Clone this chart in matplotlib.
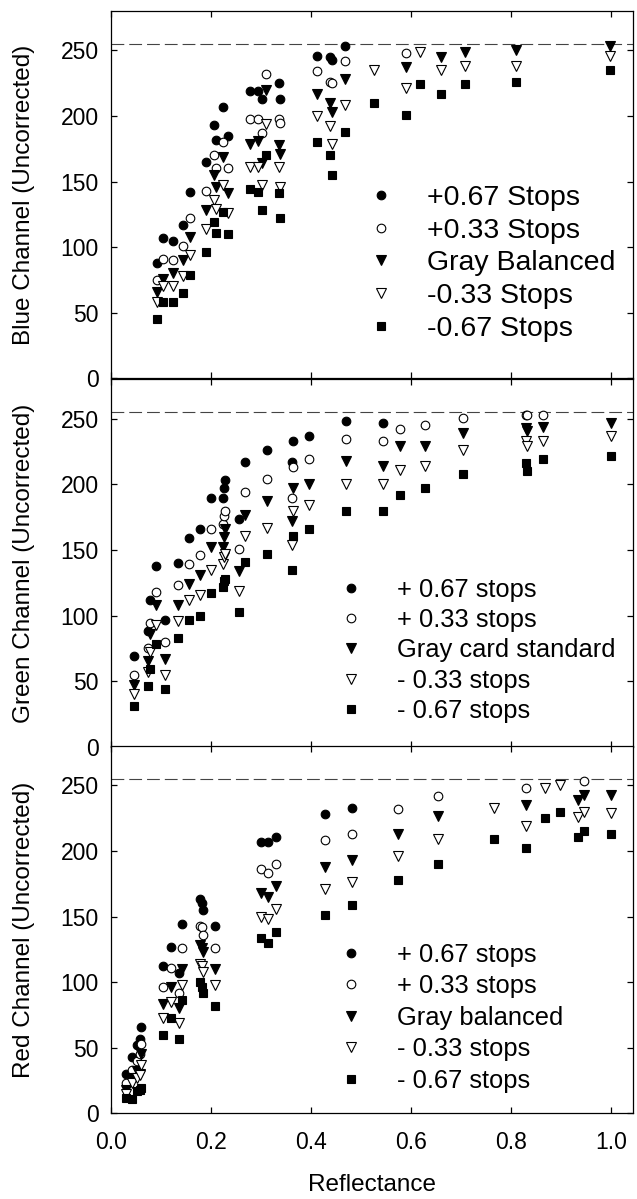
import numpy as np
import matplotlib
matplotlib.use("Agg")
import matplotlib.pyplot as plt

nan = np.nan

# ── Data: Blue channel ───────────────────────────────────────
blue_refl = [0.091, 0.103, 0.123, 0.143, 0.158, 0.189, 0.206, 0.210, 0.223, 0.233,
             0.278, 0.293, 0.301, 0.309, 0.336, 0.337, 0.411, 0.438, 0.442, 0.467,
             0.525, 0.590, 0.617, 0.660, 0.708, 0.809, 0.997]
blue_p67 = [88, 107, 105, 117, 142, 165, 193, 182, 207, 185,
            219, 219, 213, nan, 225, 213, 246, 245, 243, 253,
            nan, nan, nan, nan, nan, nan, nan]
blue_p33 = [75, 91, 90, 101, 122, 143, 170, 160, 180, 160,
            198, 198, 187, 232, 198, 195, 234, 226, 225, 242,
            nan, 248, nan, nan, nan, nan, nan]
blue_gray = [66, 76, 80, 90, 108, 128, 155, 146, 169, 141,
             179, 181, 164, 220, 178, 171, 217, 210, 203, 228,
             nan, 237, nan, 245, 249, 250, 253]
blue_m33 = [58, 70, 70, 78, 94, 114, 136, 129, 147, 126,
            161, 161, 147, 194, 161, 146, 200, 192, 179, 208,
            235, 221, 249, 235, 238, 238, 246]
blue_m67 = [45, 58, 58, 65, 79, 96, 119, 111, 127, 110,
            144, 142, 128, 170, 141, 122, 180, 170, 155, 188,
            210, 201, 224, 217, 224, 226, 235]

# ── Data: Green channel ──────────────────────────────────────
green_refl = [0.046, 0.073, 0.078, 0.090, 0.107, 0.133, 0.155, 0.177, 0.199, 0.223,
              0.225, 0.228, 0.256, 0.268, 0.311, 0.361, 0.363, 0.396, 0.470, 0.543,
              0.577, 0.627, 0.703, 0.829, 0.831, 0.863, 0.999]
green_p67 = [69, 88, 112, 138, 97, 140, 159, 166, 190, 190,
             197, 203, 174, 217, 226, 217, 233, 237, 248, 247,
             nan, nan, nan, nan, nan, nan, nan]
green_p33 = [55, 75, 94, 118, 80, 123, 139, 146, 166, 170,
             176, 180, 151, 194, 204, 190, 213, 219, 235, 233,
             242, 245, 251, 253, 253, 253, nan]
green_gray = [47, 65, 86, 108, 67, 108, 124, 131, 152, 152,
              160, 166, 134, 177, 187, 172, 197, 200, 218, 214,
              229, 229, 239, 243, 241, 244, 247]
green_m33 = [40, 57, 72, 93, 55, 96, 112, 116, 135, 139,
             145, 147, 119, 161, 167, 154, 180, 184, 200, 200,
             211, 214, 226, 233, 229, 233, 237]
green_m67 = [31, 46, 59, 78, 44, 83, 97, 100, 117, 122,
             126, 128, 103, 141, 147, 135, 161, 166, 180, 180,
             192, 197, 208, 216, 210, 219, 222]

# ── Data: Red channel ────────────────────────────────────────
red_refl = [0.030, 0.041, 0.051, 0.057, 0.060, 0.103, 0.119, 0.135, 0.141, 0.177,
            0.181, 0.184, 0.208, 0.299, 0.313, 0.330, 0.427, 0.482, 0.573, 0.653,
            0.765, 0.829, 0.868, 0.898, 0.933, 0.945, 0.999]
red_p67 = [30, 43, 52, 57, 66, 112, 127, 107, 144, 163,
           160, 155, 143, 207, 207, 211, 228, 233, nan, nan,
           nan, nan, nan, nan, nan, nan, nan]
red_p33 = [23, 33, 40, 45, 53, 96, 111, 92, 126, 143,
           142, 136, 126, 186, 183, 190, 208, 213, 232, 242,
           nan, 248, nan, nan, nan, 253, nan]
red_gray = [18, 27, 32, 30, 45, 83, 96, 80, 110, 128,
            126, 123, 110, 168, 165, 173, 188, 193, 213, 227,
            nan, 235, nan, nan, 239, 243, 243]
red_m33 = [15, 23, 27, 29, 37, 73, 85, 69, 98, 114,
           112, 108, 98, 150, 148, 156, 171, 176, 196, 209,
           233, 219, 248, 250, 226, 230, 229]
red_m67 = [12, 11, 17, 18, 19, 60, 73, 57, 86, 100,
           96, 92, 82, 134, 130, 138, 151, 159, 178, 190,
           209, 202, 225, 230, 211, 215, 213]

blue_labels = ["+0.67 Stops", "+0.33 Stops", "Gray Balanced", "-0.33 Stops", "-0.67 Stops"]
green_labels = ["+ 0.67 stops", "+ 0.33 stops", "Gray card standard", "- 0.33 stops", "- 0.67 stops"]
red_labels = ["+ 0.67 stops", "+ 0.33 stops", "Gray balanced", "- 0.33 stops", "- 0.67 stops"]

SATURATION = 255

# Style
plt.rcParams.update({
    "font.family": ["Liberation Sans", "DejaVu Sans"],
    "axes.linewidth": 0.9,
    "xtick.direction": "in",
    "ytick.direction": "in",
    "xtick.top": True,
    "ytick.right": True,
    "xtick.major.size": 4,
    "ytick.major.size": 4,
    "xtick.major.width": 0.9,
    "ytick.major.width": 0.9,
})

MARKERS = [
    dict(marker="o", ms=6.2, mfc="black", mec="black", mew=0.8),
    dict(marker="o", ms=6.2, mfc="white", mec="black", mew=0.8),
    dict(marker="v", ms=6.6, mfc="black", mec="black", mew=0.8),
    dict(marker="v", ms=6.6, mfc="white", mec="black", mew=0.8),
    dict(marker="s", ms=5.4, mfc="black", mec="black", mew=0.8),
]

panels = [
    ("Blue Channel (Uncorrected)", blue_refl,
     [blue_p67, blue_p33, blue_gray, blue_m33, blue_m67], blue_labels,
     dict(fs=20.5, x=0.490, y=0.527, pad=1.1, sp=0.24)),
    ("Green Channel (Uncorrected)", green_refl,
     [green_p67, green_p33, green_gray, green_m33, green_m67], green_labels,
     dict(fs=18.4, x=0.435, y=0.459, pad=1.3, sp=0.24)),
    ("Red Channel (Uncorrected)", red_refl,
     [red_p67, red_p33, red_gray, red_m33, red_m67], red_labels,
     dict(fs=18.4, x=0.435, y=0.464, pad=1.3, sp=0.29)),
]

fig = plt.figure(figsize=(6.37, 11.99), dpi=100)
left, width, height = 0.1743, 0.8195, 0.3063
bottoms = [0.6845, 0.3772, 0.0715]

for i, (ylabel, refl, series, labels, leg) in enumerate(panels):
    ax = fig.add_axes([left, bottoms[i], width, height])
    for vals, lab, mk in zip(series, labels, MARKERS):
        ax.plot(refl, vals, linestyle="none", label=lab, **mk)
    ax.axhline(SATURATION, color="#444444", lw=0.8, dashes=(11.5, 4.5), zorder=0)

    ax.set_xlim(0, 1.044)
    ax.set_ylim(0, 280)
    ax.set_xticks([0.0, 0.2, 0.4, 0.6, 0.8, 1.0])
    ax.set_yticks([0, 50, 100, 150, 200, 250])
    ax.tick_params(axis="y", labelsize=16.5, pad=9)
    ax.tick_params(axis="x", labelsize=16.5, pad=13)
    if i < 2:
        ax.set_xticklabels([])
    else:
        ax.set_xticklabels([f"{v:.1f}" for v in [0.0, 0.2, 0.4, 0.6, 0.8, 1.0]])
        ax.set_xlabel("Reflectance", fontsize=17.5, labelpad=14)
    ax.set_ylabel(ylabel, fontsize=17.5)
    ax.yaxis.set_label_coords(-0.145, 0.5)

    ax.legend(loc="upper left", bbox_to_anchor=(leg["x"], leg["y"]),
              frameon=False, fontsize=leg["fs"], handlelength=1.0,
              handletextpad=leg["pad"], labelspacing=leg["sp"],
              borderpad=0, borderaxespad=0, numpoints=1)

plt.savefig("out.png", dpi=100)
plt.close()
